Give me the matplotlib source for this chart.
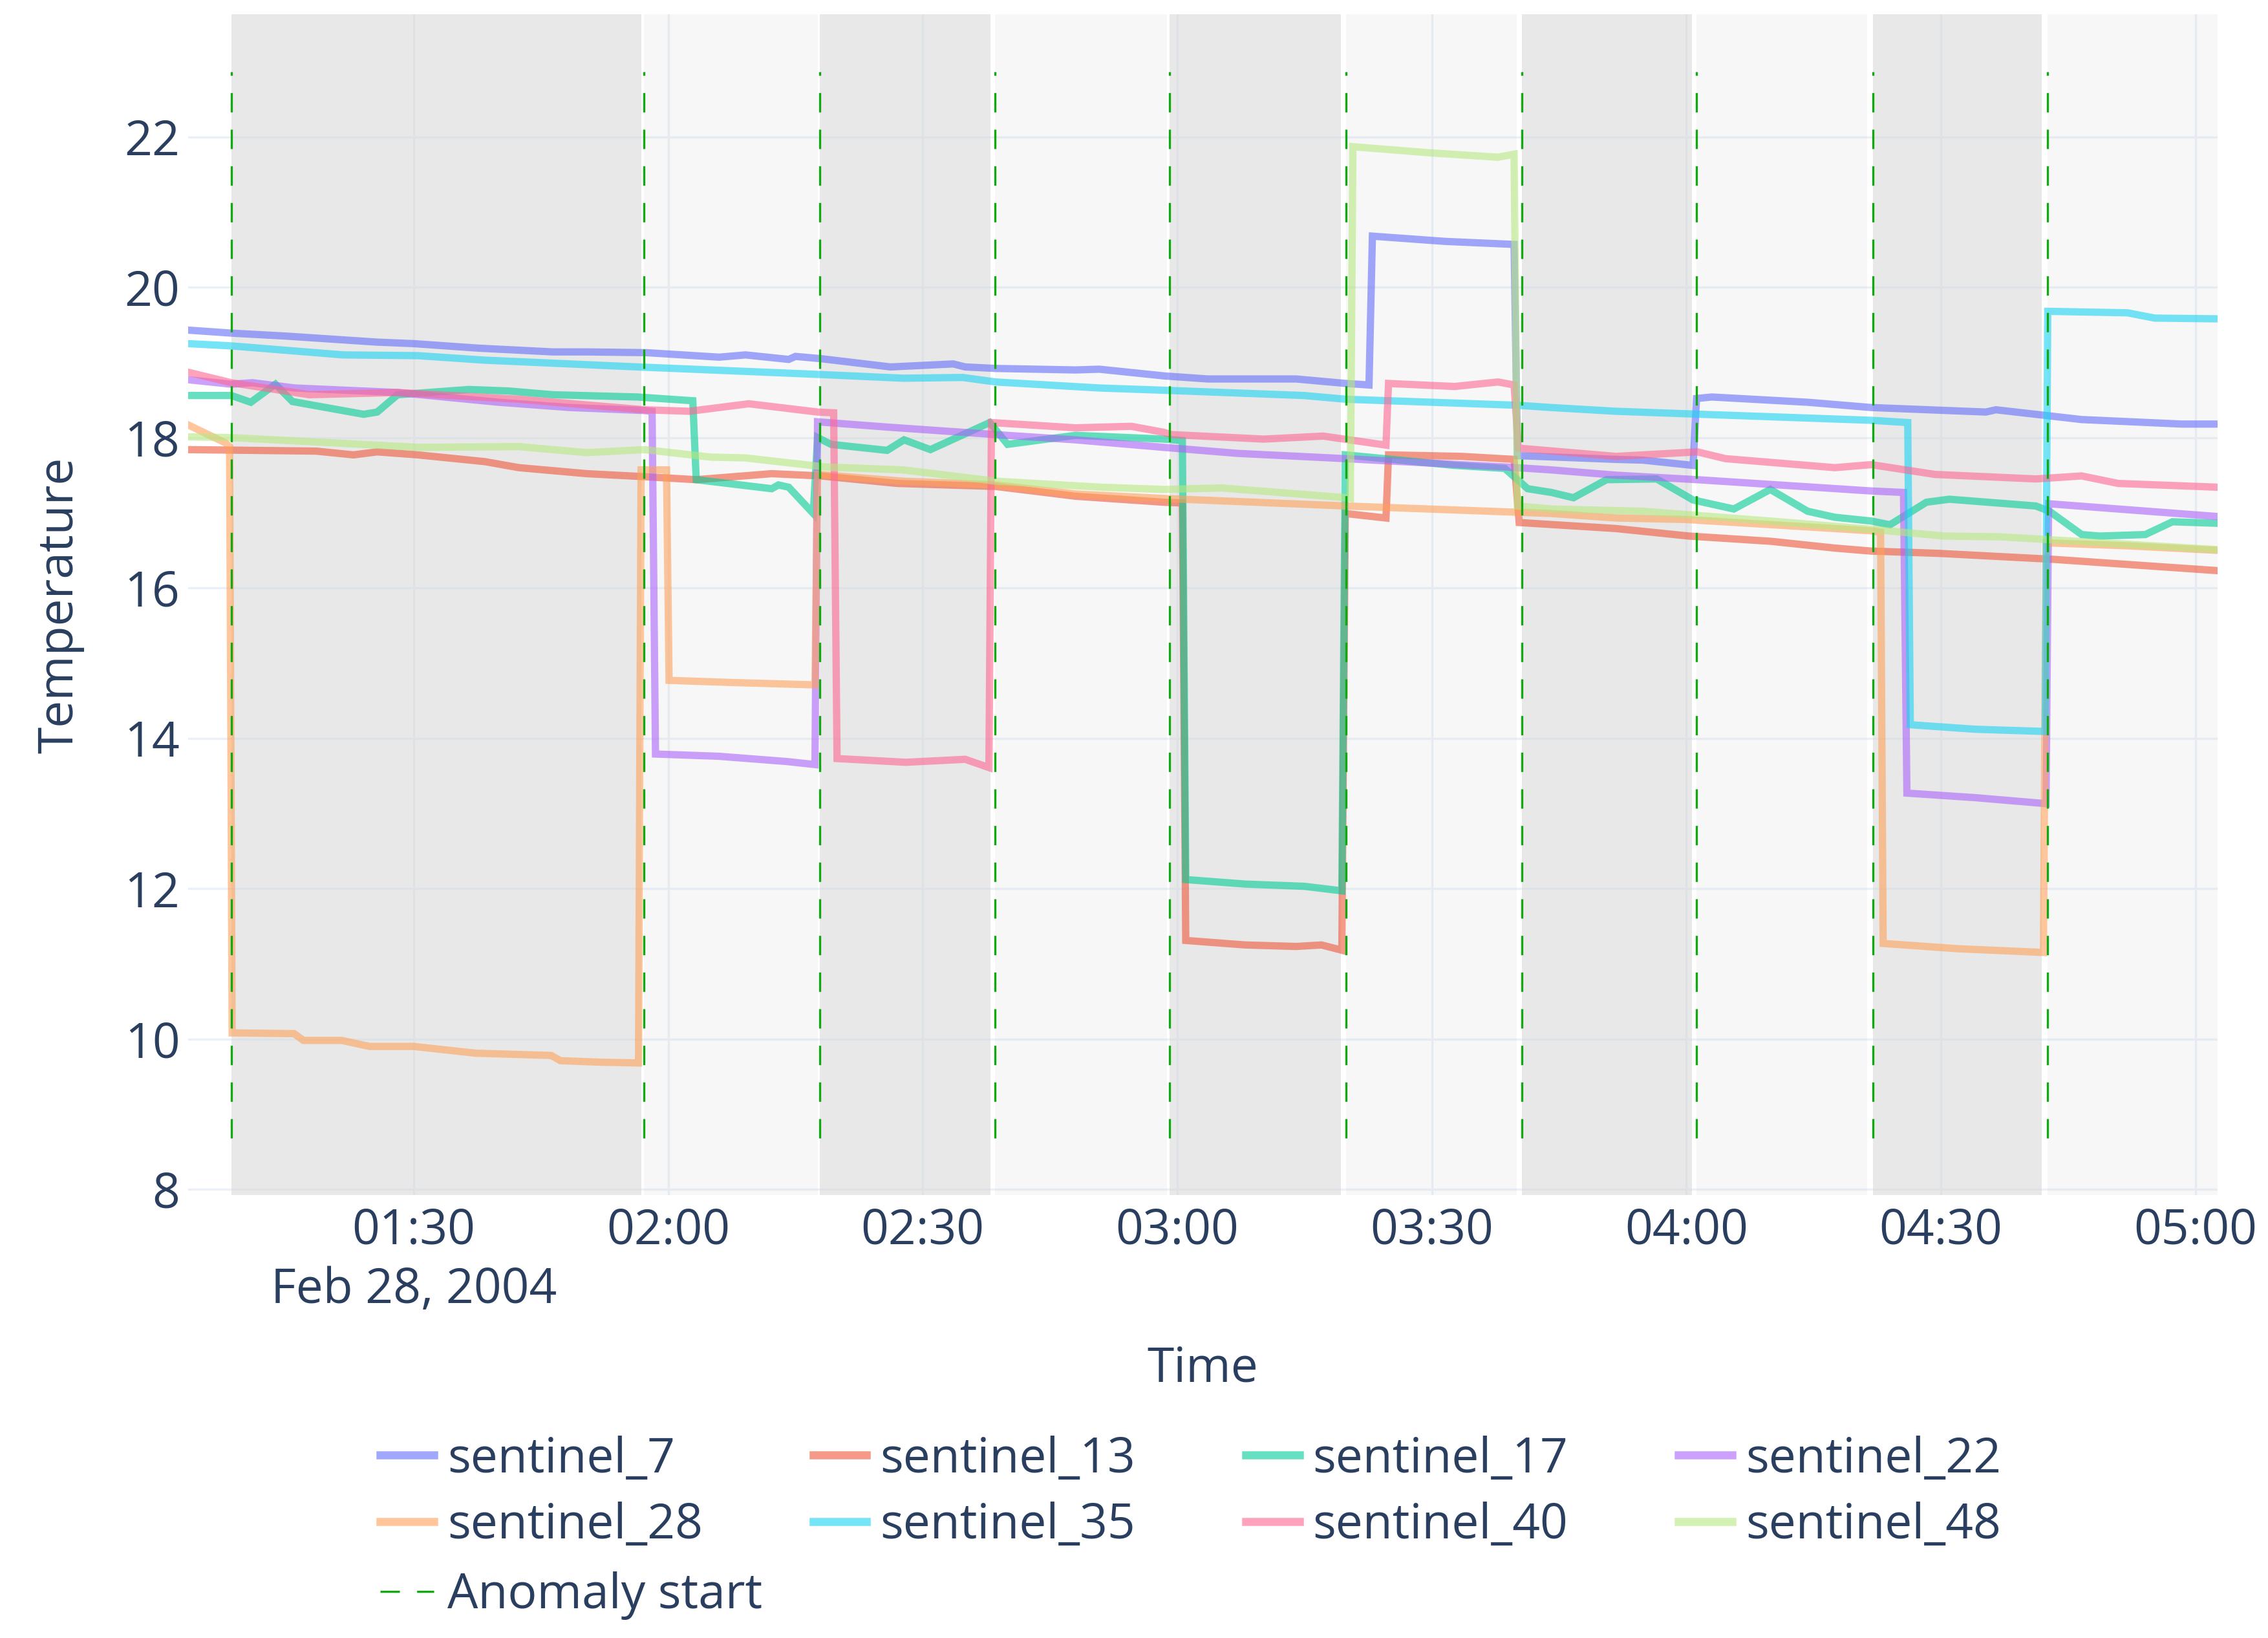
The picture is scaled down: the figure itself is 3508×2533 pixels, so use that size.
import matplotlib
matplotlib.use("Agg")
import matplotlib.pyplot as plt
import matplotlib.dates as mdates
from matplotlib.lines import Line2D
import pandas as pd

plt.rcParams["font.family"] = ["Open Sans", "DejaVu Sans"]
TEXT = "#2a3f5f"
FS = 18

# time axis: minutes after 01:00 on Feb 28, 2004
BASE = pd.Timestamp("2004-02-28 01:00")

names = ["sentinel_7", "sentinel_13", "sentinel_17", "sentinel_22",
         "sentinel_28", "sentinel_35", "sentinel_40", "sentinel_48"]
colors = ["#636EFA", "#EF553B", "#00CC96", "#AB63FA",
          "#FFA15A", "#19D3F3", "#FF6692", "#B6E880"]

min_7 = [3.4, 8.5, 15.0, 25.7, 30.0, 37.6, 46.4, 50.4, 57.4, 66.0, 69.1, 74.2, 75.0, 78.0,
         86.2, 93.6, 95.0, 98.6, 108.0, 110.8, 118.5, 123.6, 134.0, 139.9, 142.6, 143.0,
         151.6, 159.7, 160.1, 171.7, 174.9, 180.8, 181.2, 183.0, 194.3, 201.8, 215.3,
         216.5, 226.6, 238.4, 242.6]
val_7 = [19.43, 19.39, 19.35, 19.27, 19.25, 19.19, 19.14, 19.14, 19.13, 19.07, 19.10, 19.04,
         19.08, 19.05, 18.94, 18.98, 18.94, 18.92, 18.90, 18.91, 18.82, 18.78, 18.78, 18.72,
         18.70, 20.68, 20.61, 20.57, 17.76, 17.71, 17.70, 17.63, 18.52, 18.54, 18.47, 18.40,
         18.34, 18.37, 18.24, 18.18, 18.18]

min_13 = [3.4, 18.5, 22.9, 25.7, 30.5, 38.4, 42.4, 50.4, 57.2, 63.3, 72.2, 78.0, 87.0, 98.6,
          108.0, 118.4, 120.6, 121.0, 128.0, 134.0, 137.0, 139.4, 139.8, 144.6, 144.9, 153.5,
          159.7, 160.3, 171.7, 180.3, 190.0, 197.5, 201.8, 209.7, 223.3, 242.6]
val_13 = [17.84, 17.82, 17.77, 17.81, 17.77, 17.68, 17.60, 17.52, 17.48, 17.44, 17.52, 17.49,
          17.39, 17.35, 17.22, 17.14, 17.13, 11.31, 11.25, 11.23, 11.25, 11.18, 16.99, 16.93,
          17.77, 17.75, 17.71, 16.87, 16.79, 16.69, 16.62, 16.53, 16.49, 16.46, 16.38, 16.23]

min_17 = [3.4, 8.5, 10.8, 13.7, 15.7, 24.1, 25.7, 28.1, 36.5, 41.2, 46.4, 56.4, 62.9, 63.3,
          72.2, 73.0, 74.2, 77.1, 77.6, 79.2, 85.8, 87.8, 90.9, 97.9, 100.0, 108.0, 118.4,
          120.6, 121.0, 128.0, 135.0, 139.4, 139.8, 152.7, 158.6, 161.3, 164.1, 166.7, 170.6,
          176.5, 180.8, 185.6, 189.9, 194.3, 197.5, 201.8, 204.0, 208.3, 211.0, 221.2, 222.8,
          226.6, 228.7, 234.1, 237.3, 242.6]
val_17 = [18.56, 18.56, 18.47, 18.71, 18.48, 18.31, 18.34, 18.57, 18.64, 18.62, 18.57, 18.54,
          18.49, 17.44, 17.32, 17.37, 17.34, 16.99, 18.00, 17.91, 17.83, 17.97, 17.84, 18.20,
          17.91, 18.03, 17.98, 17.96, 12.12, 12.06, 12.03, 11.97, 17.77, 17.63, 17.59, 17.32,
          17.27, 17.20, 17.44, 17.45, 17.17, 17.05, 17.31, 17.02, 16.94, 16.89, 16.84, 17.14,
          17.18, 17.09, 17.02, 16.71, 16.69, 16.71, 16.88, 16.86]

min_22 = [3.4, 8.5, 11.0, 16.0, 28.1, 40.0, 48.4, 57.2, 58.1, 58.5, 66.0, 74.0, 77.3, 77.6,
          85.8, 98.6, 108.0, 118.4, 127.1, 138.0, 158.6, 164.1, 171.7, 181.3, 201.8, 205.6,
          206.0, 214.0, 222.4, 222.7, 242.6]
val_22 = [18.77, 18.71, 18.73, 18.66, 18.60, 18.47, 18.40, 18.36, 18.35, 13.79, 13.76, 13.69,
          13.65, 18.21, 18.14, 18.04, 17.97, 17.87, 17.79, 17.73, 17.61, 17.57, 17.50, 17.44,
          17.29, 17.27, 13.27, 13.21, 13.13, 17.12, 16.95]

min_28 = [3.4, 7.8, 8.3, 8.6, 15.9, 17.0, 21.5, 24.8, 30.0, 37.3, 46.2, 47.3, 52.1, 56.5,
          56.8, 59.8, 60.1, 68.0, 77.3, 77.6, 87.7, 98.6, 108.0, 118.4, 139.9, 149.6, 164.1,
          171.7, 180.0, 201.8, 202.9, 203.2, 212.0, 222.1, 222.4, 232.0, 242.6]
val_28 = [18.17, 17.93, 17.88, 10.08, 10.07, 9.98, 9.98, 9.90, 9.90, 9.81, 9.78, 9.71, 9.69,
          9.68, 17.57, 17.57, 14.77, 14.74, 14.71, 17.51, 17.42, 17.37, 17.25, 17.19, 17.09,
          17.05, 16.99, 16.93, 16.91, 16.76, 16.74, 11.27, 11.20, 11.15, 16.60, 16.56, 16.50]

min_35 = [3.4, 8.5, 21.7, 30.5, 38.4, 56.4, 65.0, 77.8, 87.7, 94.7, 98.6, 110.8, 118.4, 134.9,
          139.9, 160.1, 164.1, 171.7, 201.8, 206.1, 206.4, 214.0, 222.3, 222.6, 232.0, 235.2,
          242.6]
val_35 = [19.25, 19.22, 19.10, 19.09, 19.03, 18.94, 18.90, 18.84, 18.79, 18.80, 18.74, 18.66,
          18.63, 18.56, 18.51, 18.43, 18.40, 18.35, 18.23, 18.20, 14.18, 14.12, 14.09, 19.68,
          19.66, 19.59, 19.58]

min_40 = [3.4, 8.5, 17.7, 28.1, 42.4, 57.2, 62.5, 69.5, 77.6, 79.5, 79.9, 88.0, 95.0, 97.8,
          98.1, 108.0, 114.6, 118.4, 119.3, 130.2, 137.2, 144.6, 144.9, 152.7, 157.8, 159.7,
          160.2, 171.7, 174.9, 181.3, 184.6, 197.5, 201.8, 209.3, 221.2, 226.6, 230.9, 242.6]
val_40 = [18.87, 18.73, 18.57, 18.60, 18.51, 18.37, 18.35, 18.45, 18.34, 18.33, 13.73, 13.68,
          13.72, 13.61, 18.20, 18.13, 18.15, 18.07, 18.04, 17.98, 18.02, 17.90, 18.72, 18.68,
          18.74, 18.70, 17.86, 17.75, 17.77, 17.81, 17.72, 17.60, 17.64, 17.51, 17.45, 17.49,
          17.39, 17.34]

min_48 = [3.4, 8.5, 20.5, 30.5, 42.4, 50.4, 57.2, 65.0, 69.1, 78.4, 87.7, 98.6, 111.0, 118.4,
          125.2, 139.9, 140.4, 140.7, 149.6, 157.8, 159.7, 160.1, 164.1, 174.9, 191.0, 201.8,
          210.4, 217.0, 242.6]
val_48 = [18.01, 18.00, 17.93, 17.87, 17.88, 17.80, 17.84, 17.74, 17.73, 17.61, 17.57, 17.42,
          17.34, 17.31, 17.33, 17.20, 17.19, 21.87, 21.79, 21.73, 21.77, 17.09, 17.05, 17.02,
          16.88, 16.78, 16.69, 16.68, 16.51]

minutes = [min_7, min_13, min_17, min_22, min_28, min_35, min_40, min_48]
values = [val_7, val_13, val_17, val_22, val_28, val_35, val_40, val_48]

# anomaly windows (minutes after 01:00)
anomaly_start = [8.5, 57.1, 77.9, 98.5, 119.1, 139.9, 160.6, 181.2, 202.0, 222.6]
anomaly_end = [56.8, 77.6, 98.0, 118.8, 139.3, 160.0, 180.7, 201.3, 221.9, 242.6]


def to_time(m):
    return BASE + pd.to_timedelta(m, unit="m")


fig = plt.figure(figsize=(3508 / 300, 2533 / 300), dpi=300)
ax = fig.add_axes([0.0829, 0.2703, 0.8948, 0.7209])

for i, (s, e) in enumerate(zip(anomaly_start, anomaly_end)):
    ax.axvspan(to_time(s), to_time(e), color="#d3d3d3",
               alpha=0.5 if i % 2 == 0 else 0.18, lw=0, zorder=1)

for name, c, m, v in zip(names, colors, minutes, values):
    ax.plot(to_time(m), v, color=c, alpha=0.6, lw=2.7, label=name, zorder=2,
            solid_joinstyle="miter")

all_vals = [x for v in values for x in v]
lo, hi = min(all_vals) - 1, max(all_vals) + 1
vl = ax.vlines([to_time(s) for s in anomaly_start], lo, hi, color="#11a811",
               lw=0.8, zorder=3)
vl.set_dashes([(0, (9, 8))])

ax.set_xlim(to_time(min_7[0]), to_time(min_7[-1]))
ax.set_ylim(7.92, 23.63)
ax.set_yticks(range(8, 23, 2))
ax.xaxis.set_major_locator(mdates.MinuteLocator(byminute=[0, 30]))
ax.xaxis.set_major_formatter(mdates.DateFormatter("%H:%M"))
ax.tick_params(axis="both", length=0, labelsize=FS, labelcolor=TEXT)
ax.tick_params(axis="x", pad=4.4)
ax.tick_params(axis="y", pad=3)
ax.grid(color="#EBF0F8", lw=0.8)
ax.set_axisbelow(True)
for sp in ax.spines.values():
    sp.set_visible(False)

# date shown under the first tick, as plotly does
ax.annotate("Feb 28, 2004", xy=(to_time(30), 0), xycoords=("data", "axes fraction"),
            xytext=(0, -35.4), textcoords="offset points", ha="center", va="center",
            fontsize=FS, color=TEXT)
fig.text(0.5303, 0.1643, "Time", ha="center", va="center", fontsize=FS, color=TEXT)
fig.text(0.0265, 0.6307, "Temperature", ha="center", va="center", rotation=90,
         fontsize=FS, color=TEXT)

handles = [Line2D([], [], color=c, alpha=0.6, lw=3) for c in colors]
# row-major legend order like the original
order = [0, 4, 1, 5, 2, 6, 3, 7]
fig.legend([handles[i] for i in order], [names[i] for i in order],
           loc="upper left", bbox_to_anchor=(0.1677, 0.1237),
           ncol=4, frameon=False, fontsize=FS, handlelength=1.1,
           handletextpad=0.28, columnspacing=2.28, labelspacing=0.37,
           borderpad=0, borderaxespad=0, labelcolor=TEXT)
dash = Line2D([], [], color="#11a811", lw=0.8, dashes=(9, 8))
fig.legend([dash], ["Anomaly start"], loc="upper left",
           bbox_to_anchor=(0.1677, 0.1237 - 2 * 0.04152), frameon=False,
           fontsize=FS, handlelength=1.1, handletextpad=0.28,
           borderpad=0, borderaxespad=0, labelcolor=TEXT)

fig.savefig("out.png", dpi=300)
